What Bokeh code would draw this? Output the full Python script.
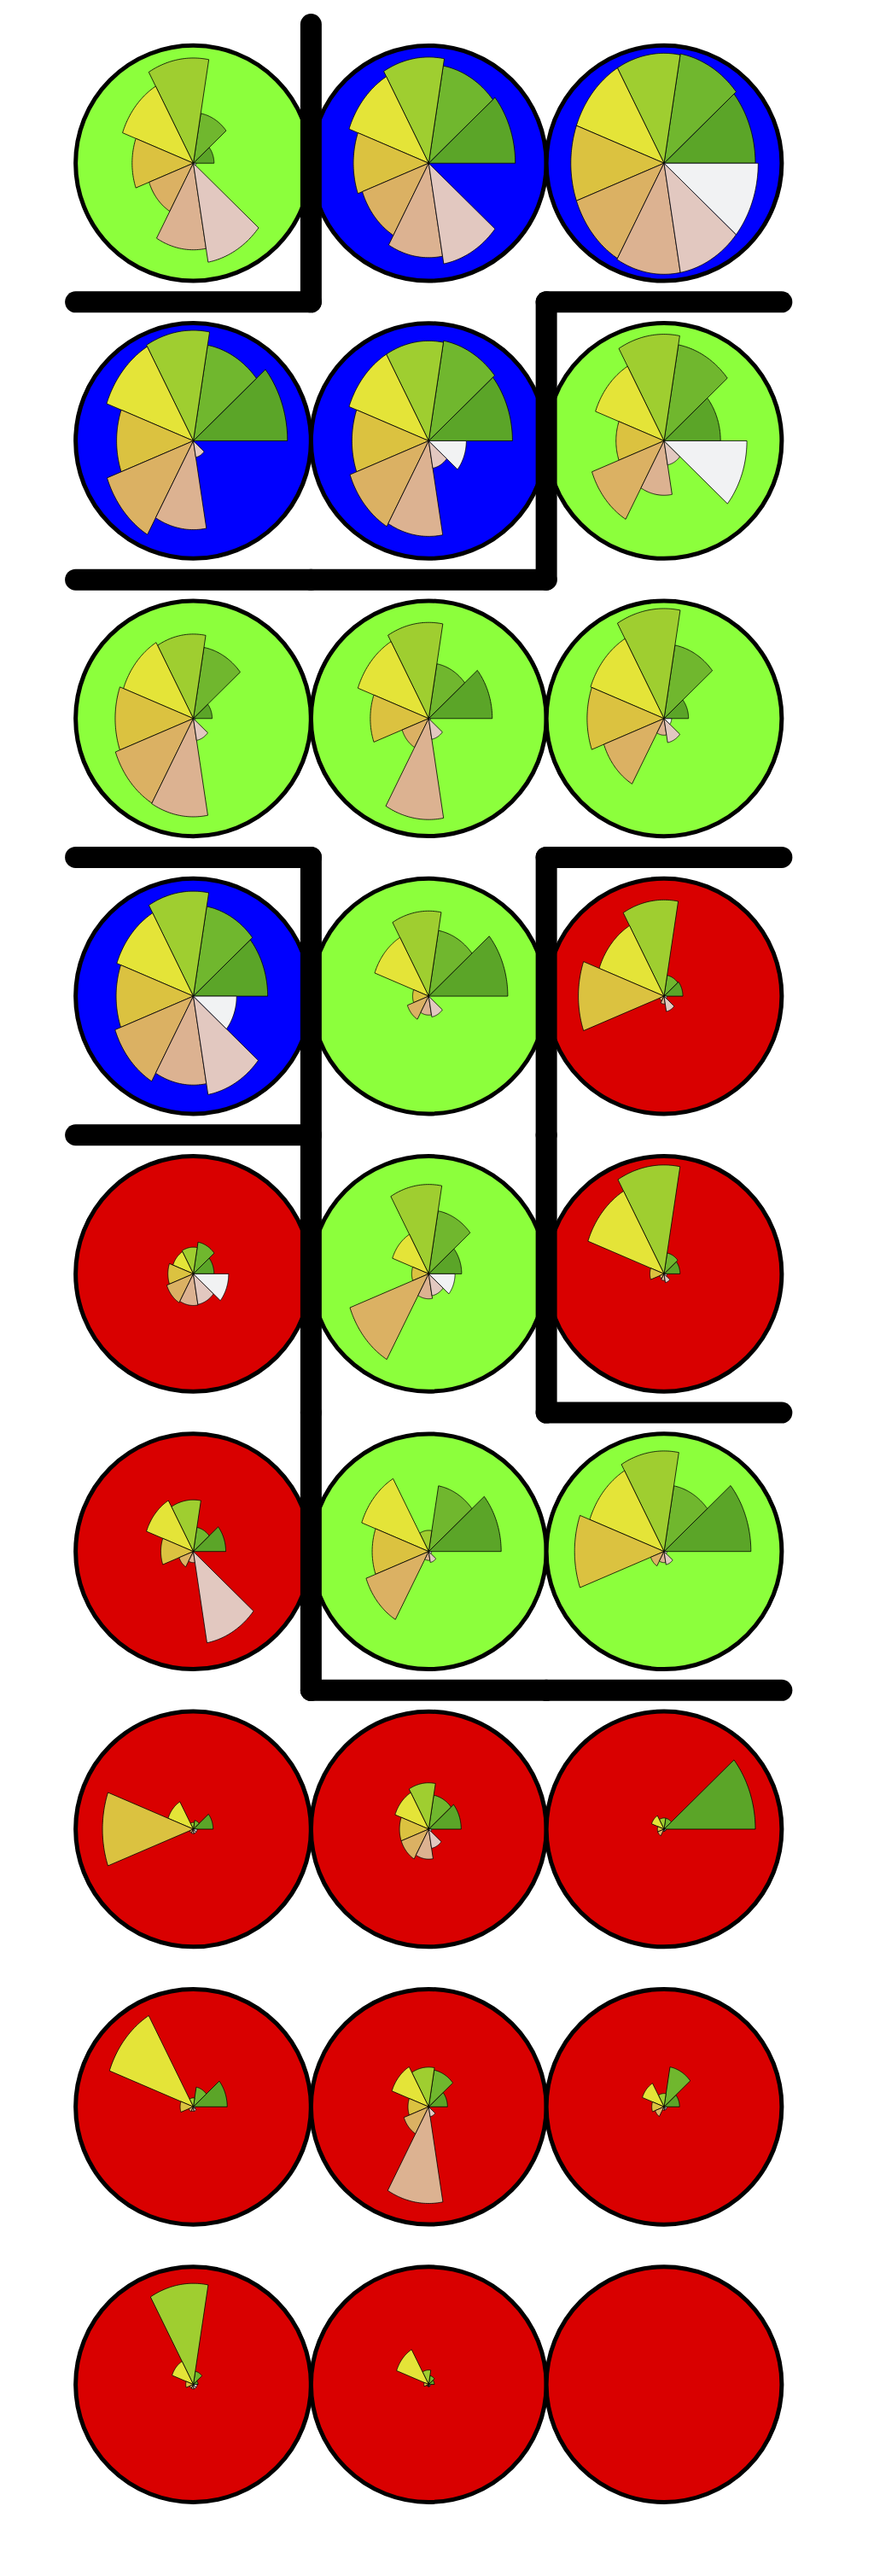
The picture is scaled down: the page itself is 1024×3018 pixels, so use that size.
import numpy as np
from bokeh.plotting import figure
from bokeh.models import Range1d, ColumnDataSource
from bokeh.embed import file_html
from bokeh.resources import INLINE

N_COLS, N_ROWS = 3, 9

# codebook values (0..1) of the nine variables, one entry per unit,
# units listed row by row starting top-left
seg1 = [0.22, 0.92, 0.97, 1.00, 0.89, 0.60, 0.20, 0.675, 0.26,
        0.79, 0.84, 0.20, 0.22, 0.35, 0.17, 0.345, 0.77, 0.923,
        0.21, 0.345, 0.97, 0.36, 0.20, 0.165, 0.05, 0.06, 0.0]
seg2 = [0.455, 0.89, 1.00, 0.875, 0.915, 0.878, 0.65, 0.50, 0.67,
        0.82, 0.60, 0.19, 0.29, 0.575, 0.19, 0.22, 0.60, 0.60,
        0.08, 0.31, 0.10, 0.18, 0.335, 0.364, 0.12, 0.08, 0.0]
seg3 = [0.947, 0.955, 0.99, 0.995, 0.90, 0.96, 0.76, 0.865, 0.99,
        0.945, 0.767, 0.867, 0.24, 0.805, 0.98, 0.465, 0.19, 0.905,
        0.06, 0.417, 0.10, 0.08, 0.357, 0.12, 0.91, 0.13, 0.0]
seg4 = [0.80, 0.90, 0.99, 0.98, 0.90, 0.775, 0.79, 0.80, 0.83,
        0.865, 0.61, 0.733, 0.23, 0.41, 0.86, 0.53, 0.757, 0.84,
        0.285, 0.38, 0.14, 0.948, 0.416, 0.245, 0.24, 0.363, 0.0]
seg5 = [0.65, 0.80, 0.99, 0.815, 0.815, 0.51, 0.83, 0.62, 0.817,
        0.82, 0.17, 0.91, 0.27, 0.18, 0.15, 0.345, 0.60, 0.95,
        0.965, 0.31, 0.07, 0.14, 0.22, 0.13, 0.08, 0.05, 0.0]
seg6 = [0.50, 0.75, 0.99, 0.975, 0.89, 0.815, 0.88, 0.30, 0.68,
        0.885, 0.24, 0.05, 0.30, 0.89, 0.05, 0.16, 0.707, 0.15,
        0.04, 0.31, 0.07, 0.05, 0.28, 0.10, 0.04, 0.02, 0.0]
seg7 = [0.78, 0.85, 1.00, 0.80, 0.86, 0.49, 0.885, 0.91, 0.15,
        0.80, 0.17, 0.07, 0.285, 0.225, 0.06, 0.10, 0.08, 0.10,
        0.04, 0.27, 0.02, 0.04, 0.87, 0.03, 0.04, 0.02, 0.0]
seg8 = [0.905, 0.92, 1.00, 0.15, 0.25, 0.22, 0.20, 0.19, 0.22,
        0.90, 0.19, 0.14, 0.28, 0.20, 0.08, 0.835, 0.10, 0.12,
        0.04, 0.175, 0.02, 0.04, 0.09, 0.03, 0.04, 0.02, 0.0]
seg9 = [0.03, 0.0, 1.00, 0.0, 0.40, 0.88, 0.02, 0.02, 0.08,
        0.46, 0.0, 0.03, 0.375, 0.28, 0.03, 0.0, 0.03, 0.03,
        0.04, 0.03, 0.02, 0.02, 0.0, 0.03, 0.04, 0.02, 0.0]

# cluster of every unit (same order)
cluster = [1, 2, 2,
           2, 2, 1,
           1, 1, 1,
           2, 1, 3,
           3, 1, 3,
           3, 1, 1,
           3, 3, 3,
           3, 3, 3,
           3, 3, 3]

CLUSTER_COLORS = {1: "#8cff3c", 2: "#0000ff", 3: "#d90000"}
SEGMENT_COLORS = ["#5ba528", "#70b72e", "#9fce30", "#e4e438", "#dbc240",
                  "#dbb163", "#dcb291", "#e2c8c0", "#f1f2f3"]
STAR_LEN = 0.4

segments = [seg1, seg2, seg3, seg4, seg5, seg6, seg7, seg8, seg9]
n_units = len(cluster)
ux = [i % N_COLS for i in range(n_units)]
uy = [N_ROWS - 1 - i // N_COLS for i in range(n_units)]

p = figure(width=1008, height=3002,
           x_range=Range1d(-0.8196, 2.8359), y_range=Range1d(-0.6422, 8.5862),
           x_axis_location=None, y_axis_location=None,
           toolbar_location=None, output_backend="svg",
           min_border=0, outline_line_color=None)
p.xgrid.visible = False
p.ygrid.visible = False

# background circles
units = ColumnDataSource(data={
    'x': ux, 'y': uy,
    'color': [CLUSTER_COLORS[c] for c in cluster],
})
p.circle(x='x', y='y', radius=0.5, source=units,
         fill_color='color', line_color='black', line_width=5)

# segment diagrams
n_seg = len(segments)
step = 2 * np.pi / n_seg
xs, ys, cols = [], [], []
for i in range(n_units):
    for k in range(n_seg):
        r = STAR_LEN * segments[k][i]
        a = np.linspace(k * step, (k + 1) * step, 40)
        xs.append(np.concatenate([[ux[i]], ux[i] + r * np.cos(a), [ux[i]]]))
        ys.append(np.concatenate([[uy[i]], uy[i] + r * np.sin(a), [uy[i]]]))
        cols.append(SEGMENT_COLORS[k])
p.patches(xs=xs, ys=ys, fill_color=cols, line_color='black', line_width=0.8)

# cluster boundaries
bx, by = [], []
for i in range(n_units):
    col, row = i % N_COLS, i // N_COLS
    if col + 1 < N_COLS and cluster[i + 1] != cluster[i]:
        bx.append([ux[i] + 0.5, ux[i] + 0.5])
        by.append([uy[i] - 0.5, uy[i] + 0.5])
    if row + 1 < N_ROWS and cluster[i + N_COLS] != cluster[i]:
        bx.append([ux[i] - 0.5, ux[i] + 0.5])
        by.append([uy[i] - 0.5, uy[i] - 0.5])
p.multi_line(xs=bx, ys=by, line_color='black', line_width=25, line_cap='round')

open("out.html", "w").write(file_html(p, INLINE))
